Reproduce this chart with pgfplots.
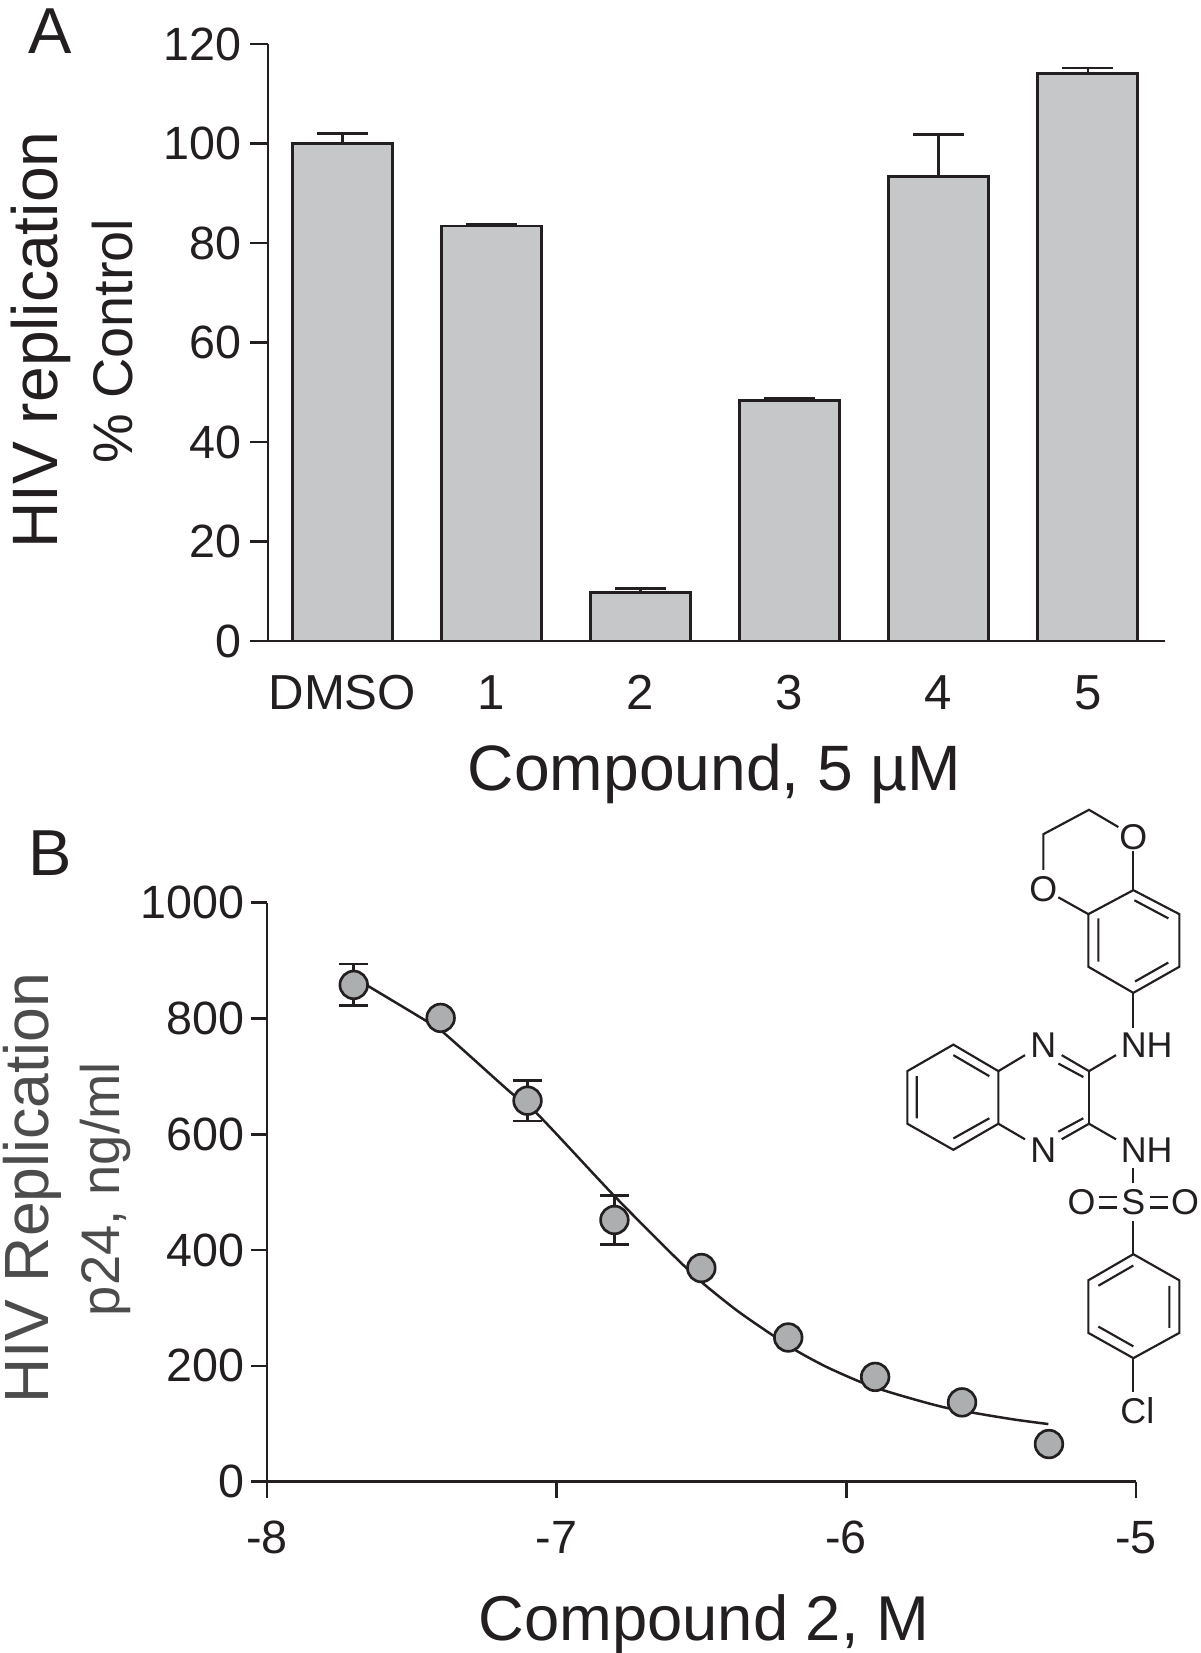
\documentclass[border=0pt]{standalone}
\usepackage{pgfplots}
\pgfplotsset{compat=1.18}
\usepackage{fontspec}
\setmainfont{Liberation Sans}
\definecolor{barfill}{HTML}{C6C7C9}
\definecolor{dotfill}{HTML}{ADAEB0}
\definecolor{ink}{HTML}{231F20}
\begin{document}
\begin{tikzpicture}
\useasboundingbox (0,0) rectangle (720pt,-991.8pt);
\node[font=\fontsize{39}{39}\selectfont,text=ink,inner sep=0pt] at (30pt,-18.4pt) {A};
\node[font=\fontsize{39}{39}\selectfont,text=ink,inner sep=0pt] at (30pt,-512pt) {B};
% Panel A
\begin{axis}[
  at={(160.8pt,-384.6pt)},anchor=south west,
  scale only axis,width=538.2pt,height=358.2pt,
  xmin=-0.498,xmax=5.518,ymin=0,ymax=120,
  axis x line=bottom,axis y line=left,
  axis line style={-,line width=1.6pt,color=ink},
  tick align=outside,major tick length=10.8pt,
  tick style={line width=1.6pt,color=ink},
  xtick style={draw=none},
  xtick={0,1,2,3,4,5},xticklabels={DMSO,1,2,3,4,5},
  ytick={0,20,40,60,80,100,120},
  /pgf/number format/assume math mode=true,
  tick label style={font=\fontsize{28}{28}\selectfont,text=ink,inner sep=0pt},
  xticklabel style={yshift=-9.6pt,font=\fontsize{29.5}{29.5}\selectfont},
  yticklabel style={xshift=-5.1pt},
  xlabel={Compound, 5 µM},ylabel={HIV replication},
  xlabel style={at={(axis description cs:.498,-.2233)},anchor=center,font=\fontsize{38.5}{38.5}\selectfont,text=ink,inner sep=0pt},
  ylabel style={at={(axis description cs:-.2535,.504)},anchor=center,font=\fontsize{38.5}{38.5}\selectfont,text=ink,inner sep=0pt},
  clip=false,
]
\addplot[ybar,bar width=60pt,draw=ink,fill=barfill,line width=1.7pt,
  error bars/.cd,y dir=plus,y explicit,
  error bar style={line width=1.5pt,color=ink},
  error mark options={rotate=90,mark size=15.4pt,line width=1.5pt,color=ink}]
  coordinates {
  (0,100) +- (0,2.0)
  (1,83.4) +- (0,0.4)
  (2,9.8) +- (0,0.8)
  (3,48.4) +- (0,0.4)
  (4,93.4) +- (0,8.4)
  (5,114.0) +- (0,1.2)
};
\node[rotate=90,font=\fontsize{33.5}{33.5}\selectfont,text=ink,inner sep=0pt] at (axis description cs:-.173,.502) {\% Control};
\end{axis}
% Panel B
\begin{axis}[
  at={(160.1pt,-889pt)},anchor=south west,
  scale only axis,width=521.4pt,height=347.4pt,
  xmin=-8,xmax=-5,ymin=0,ymax=1000,
  axis x line=bottom,axis y line=left,
  axis line style={-,line width=1.6pt,color=ink},
  tick align=outside,major tick length=9.5pt,
  tick style={line width=1.6pt,color=ink},
  xtick={-8,-7,-6,-5},xticklabels={-8,-7,-6,-5},
  ytick={0,200,400,600,800,1000},
  /pgf/number format/assume math mode=true,
  /pgf/number format/1000 sep={},
  tick label style={font=\fontsize{28}{28}\selectfont,text=ink,inner sep=0pt},
  xticklabel style={yshift=-14.1pt},
  yticklabel style={xshift=-3.8pt},
  xlabel={Compound 2, M},ylabel={HIV Replication},
  xlabel style={at={(axis description cs:.503,-.2458)},anchor=center,font=\fontsize{38}{38}\selectfont,text=ink,inner sep=0pt},
  ylabel style={at={(axis description cs:-.270,.507)},anchor=center,font=\fontsize{37.5}{37.5}\selectfont,text=black!70,inner sep=0pt},
  clip=false,
]
\addplot[smooth,no marks,line width=1.5pt,color=ink] coordinates {
  (-7.7,872) (-7.65,856) (-7.454,797) (-7.391,776) (-7.16,673) (-7.068,636)
  (-6.809,498) (-6.643,414) (-6.562,374) (-6.493,342) (-6.378,296) (-6.263,256)
  (-6.171,226) (-6.067,198) (-5.952,172.5) (-5.872,158) (-5.757,141) (-5.658,128)
  (-5.561,119) (-5.423,107.6) (-5.302,99.5)
};
\addplot[only marks,mark=*,mark size=8.3pt,
  mark options={fill=dotfill,draw=ink,line width=1.6pt},
  error bars/.cd,y dir=both,y explicit,
  error bar style={line width=1.5pt,color=ink},
  error mark options={rotate=90,mark size=8.7pt,line width=1.5pt,color=ink}]
  coordinates {
  (-7.7,858) +- (0,36)
  (-7.4,801)
  (-7.1,658) +- (0,35)
  (-6.8,452) +- (0,42)
  (-6.5,369)
  (-6.2,249)
  (-5.9,181)
  (-5.6,137)
  (-5.3,65)
};
\node[rotate=90,font=\fontsize{32.6}{32.6}\selectfont,text=black!70,inner sep=0pt] at (axis description cs:-.186,.505) {p24, ng/ml};
\end{axis}
% Chemical structure (drawing, not data)
\begin{scope}[shift={(534pt,-474pt)},x=0.2pt,y=-0.2525pt,line width=1.3pt,color=ink,
  every node/.style={font=\fontsize{21.5}{21.5}\selectfont,text=ink,inner sep=0pt}]
\draw (460,190)--(460,105)--(597,47)--(685,88);
\draw (730,145)--(730,238);
\draw (505,255)--(595,295);
\draw (730,238)--(868,295)--(868,420)--(730,482)--(595,420)--(595,295)--cycle;
\draw (733,262)--(835,305) (835,410)--(735,455) (625,305)--(625,408);
\draw (730,482)--(730,565);
\draw (597,668)--(597,793);
\draw (52,668)--(190,605)--(325,668)--(325,793)--(190,855)--(52,793)--cycle;
\draw (190,630)--(298,680) (80,680)--(80,780) (190,828)--(298,780);
\draw (325,668)--(405,630) (325,793)--(405,830);
\draw (515,630)--(597,668) (505,650)--(580,682);
\draw (515,830)--(597,793) (505,812)--(580,780);
\draw (597,668)--(678,630) (597,793)--(678,830);
\draw (730,898)--(730,935);
\draw (628,968)--(680,968) (628,992)--(680,992) (780,968)--(835,968) (780,992)--(835,992);
\draw (730,1025)--(730,1103);
\draw (730,1103)--(868,1165)--(868,1290)--(730,1350)--(595,1290)--(595,1165)--cycle;
\draw (730,1130)--(625,1178) (838,1178)--(838,1278) (625,1275)--(730,1322);
\draw (730,1350)--(730,1430);
\node at (730,112) {O};
\node at (460,235) {O};
\node at (770,607) {NH};
\node at (460,607) {N};
\node at (460,855) {N};
\node at (770,855) {NH};
\node at (730,980) {S};
\node at (575,980) {O};
\node at (885,980) {O};
\node at (742,1475) {Cl};
\end{scope}
\end{tikzpicture}
\end{document}
